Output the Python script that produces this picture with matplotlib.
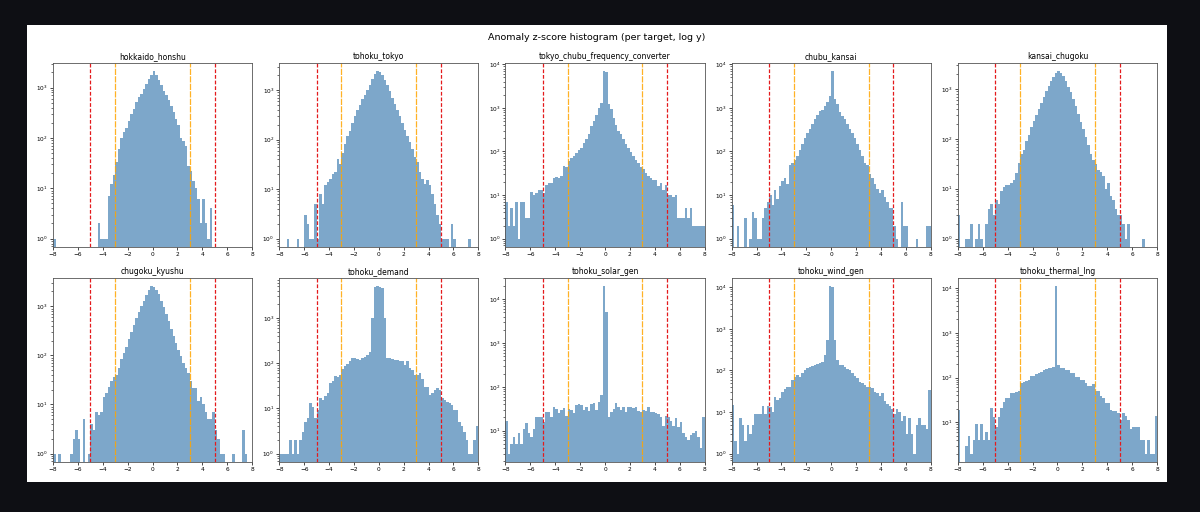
import numpy as np
import matplotlib
matplotlib.use("Agg")
from matplotlib import pyplot as plt
from matplotlib.patches import Rectangle

# z-score bins: -8 .. 8, width 0.2 (80 bins), counts
bin_edges = np.linspace(-8, 8, 81)
bin_centers = (bin_edges[:-1] + bin_edges[1:]) / 2

targets = ["hokkaido_honshu", "tohoku_tokyo", "tokyo_chubu_frequency_converter",
           "chubu_kansai", "kansai_chugoku", "chugoku_kyushu", "tohoku_demand",
           "tohoku_solar_gen", "tohoku_wind_gen", "tohoku_thermal_lng"]

hokkaido_honshu = [
    1, 0, 0, 0, 0, 0, 0, 0, 0, 0,
    0, 0, 0, 0, 0, 0, 0, 0, 2, 1,
    1, 1, 7, 12, 18, 34, 60, 100, 130, 160,
    220, 300, 380, 510, 640, 760, 940, 1200, 1450, 1750,
    2100, 1750, 1400, 1100, 870, 700, 560, 440, 320, 240,
    180, 100, 87, 70, 28, 22, 14, 10, 6, 2,
    6, 2, 1, 4, 0, 0, 0, 0, 0, 0,
    0, 0, 0, 0, 0, 0, 0, 0, 0, 0]

tohoku_tokyo = [
    0, 0, 0, 1, 0, 0, 0, 1, 0, 0,
    3, 2, 1, 1, 5, 1, 8, 5, 12, 14,
    16, 20, 22, 40, 32, 55, 80, 120, 150, 220,
    300, 390, 500, 650, 800, 1000, 1300, 1700, 2100, 2400,
    2300, 2000, 1600, 1250, 950, 700, 520, 400, 300, 220,
    160, 120, 90, 65, 45, 35, 22, 16, 13, 15,
    12, 8, 5, 3, 2, 1, 1, 1, 0, 2,
    1, 0, 0, 0, 0, 0, 1, 0, 0, 0]

tokyo_chubu_frequency_converter = [
    7, 2, 5, 2, 7, 1, 7, 7, 3, 3,
    12, 10, 11, 13, 13, 11, 17, 19, 19, 25,
    26, 24, 27, 46, 45, 60, 72, 78, 93, 110,
    120, 160, 190, 250, 380, 500, 700, 1000, 1300, 6900,
    6800, 1200, 950, 600, 400, 300, 250, 190, 150, 120,
    95, 80, 65, 55, 45, 40, 32, 28, 25, 22,
    22, 16, 19, 13, 17, 10, 10, 9, 10, 3,
    3, 3, 5, 3, 5, 2, 2, 2, 2, 2]

chubu_kansai = [
    6, 0, 2, 0, 0, 3, 0, 1, 4, 3,
    1, 1, 3, 5, 7, 10, 6, 13, 8, 16,
    21, 25, 18, 50, 55, 65, 80, 110, 150, 200,
    260, 330, 420, 550, 700, 850, 900, 1100, 1400, 1900,
    6900, 1600, 1200, 800, 650, 550, 420, 330, 260, 200,
    150, 110, 80, 55, 50, 30, 25, 18, 14, 11,
    13, 9, 7, 5, 5, 2, 1, 0, 7, 2,
    2, 0, 0, 0, 1, 0, 0, 0, 2, 2]

kansai_chugoku = [
    3, 0, 0, 1, 1, 2, 0, 1, 2, 1,
    0, 2, 4, 5, 3, 6, 5, 9, 11, 12,
    12, 13, 15, 21, 33, 50, 60, 90, 120, 170,
    230, 300, 400, 520, 700, 900, 1150, 1450, 1750, 2050,
    2250, 2100, 1800, 1450, 1100, 850, 620, 450, 320, 220,
    160, 110, 75, 50, 38, 32, 24, 22, 18, 10,
    13, 7, 6, 4, 3, 3, 2, 1, 2, 0,
    0, 0, 0, 0, 1, 0, 0, 0, 0, 0]

chugoku_kyushu = [
    1, 0, 1, 0, 0, 0, 0, 1, 2, 3,
    2, 0, 5, 0, 1, 4, 3, 7, 6, 7,
    14, 17, 23, 30, 37, 40, 55, 85, 110, 150,
    220, 300, 420, 580, 780, 1000, 1300, 1700, 2100, 2550,
    2450, 2150, 1750, 1300, 950, 700, 500, 350, 250, 180,
    130, 95, 70, 55, 44, 30, 22, 22, 12, 14,
    10, 7, 5, 5, 7, 3, 2, 1, 1, 0,
    0, 0, 1, 0, 0, 0, 3, 1, 0, 0]

tohoku_demand = [
    1, 1, 1, 1, 2, 1, 2, 1, 2, 3,
    5, 6, 13, 11, 6, 9, 17, 15, 19, 22,
    37, 40, 52, 50, 55, 73, 85, 95, 110, 130,
    130, 125, 120, 130, 140, 150, 180, 1000, 4800, 5000,
    4900, 4700, 1000, 130, 130, 125, 120, 115, 110, 110,
    93, 110, 80, 70, 56, 56, 60, 44, 30, 29,
    20, 22, 26, 28, 25, 17, 15, 14, 13, 12,
    9, 9, 5, 4, 3, 2, 1, 1, 2, 4]

tohoku_solar_gen = [
    17, 3, 5, 7, 5, 9, 5, 11, 15, 9,
    7, 11, 21, 20, 20, 16, 26, 27, 21, 35,
    32, 25, 30, 33, 22, 32, 30, 25, 38, 40,
    38, 30, 35, 28, 40, 42, 30, 45, 65, 19600,
    5000, 21, 27, 32, 42, 35, 30, 35, 27, 35,
    35, 33, 35, 28, 27, 30, 28, 34, 27, 26,
    25, 24, 20, 13, 22, 21, 17, 13, 19, 12,
    16, 9, 7, 6, 8, 9, 10, 7, 4, 20]

tohoku_wind_gen = [
    15, 2, 1, 7, 5, 2, 5, 3, 5, 9,
    9, 9, 14, 9, 14, 13, 10, 23, 19, 22,
    31, 35, 41, 41, 60, 71, 78, 71, 85, 100,
    112, 118, 125, 135, 140, 150, 160, 235, 540, 10500,
    10000, 540, 180, 135, 135, 123, 110, 100, 85, 75,
    65, 54, 50, 45, 41, 41, 37, 30, 28, 24,
    28, 18, 16, 14, 12, 9, 12, 10, 6, 8,
    3, 7, 3, 1, 5, 7, 5, 5, 4, 34]

tohoku_thermal_lng = [
    19, 0, 0, 3, 5, 2, 4, 9, 4, 9,
    4, 6, 4, 21, 13, 8, 13, 21, 28, 35,
    35, 45, 45, 48, 50, 76, 78, 83, 90, 107,
    110, 117, 127, 130, 150, 155, 165, 165, 170, 10900,
    195, 165, 165, 150, 150, 127, 127, 103, 103, 90,
    90, 76, 64, 64, 70, 50, 50, 38, 35, 27,
    27, 19, 18, 18, 16, 11, 16, 14, 11, 7,
    8, 8, 8, 4, 4, 2, 4, 2, 2, 14]

all_counts = [hokkaido_honshu, tohoku_tokyo, tokyo_chubu_frequency_converter,
              chubu_kansai, kansai_chugoku, chugoku_kyushu, tohoku_demand,
              tohoku_solar_gen, tohoku_wind_gen, tohoku_thermal_lng]

warn_z = 3
alert_z = 5

fig, axes = plt.subplots(2, 5, figsize=(12, 5.12), dpi=100)
fig.patch.set_facecolor("#0e0f14")
# white figure card inside the dark page
fig.patches.append(Rectangle((27 / 1200, 1 - 482 / 512), 1140 / 1200, 457 / 512,
                             transform=fig.transFigure, facecolor="white",
                             edgecolor="none", zorder=-10))
fig.subplots_adjust(left=0.0442, right=0.9642, bottom=0.0977, top=0.877,
                    wspace=0.136, hspace=0.168)

for ax, name, counts in zip(axes.flat, targets, all_counts):
    ax.hist(bin_centers, bins=bin_edges, weights=counts, log=True,
            color="steelblue", alpha=0.7)
    for z in (-alert_z, alert_z):
        ax.axvline(z, color="#e41a1c", ls="--", lw=0.9, dashes=(3, 1.5))
    for z in (-warn_z, warn_z):
        ax.axvline(z, color="orange", ls="--", lw=0.9, alpha=0.85,
                   dashes=(5, 1))
    ax.set_xlim(-8, 8)
    ax.set_title(name, fontsize=5.5, pad=3)
    ax.tick_params(labelsize=4.2, length=2, width=0.5, pad=1.5)
    ax.tick_params(which="minor", length=1.2, width=0.4)
    for s in ax.spines.values():
        s.set_linewidth(0.6)
        s.set_color("#555555")

fig.suptitle("Anomaly z-score histogram (per target, log y)", fontsize=6.8,
             x=0.4975, y=0.935)

fig.savefig("out.png", dpi=100, facecolor=fig.get_facecolor())
